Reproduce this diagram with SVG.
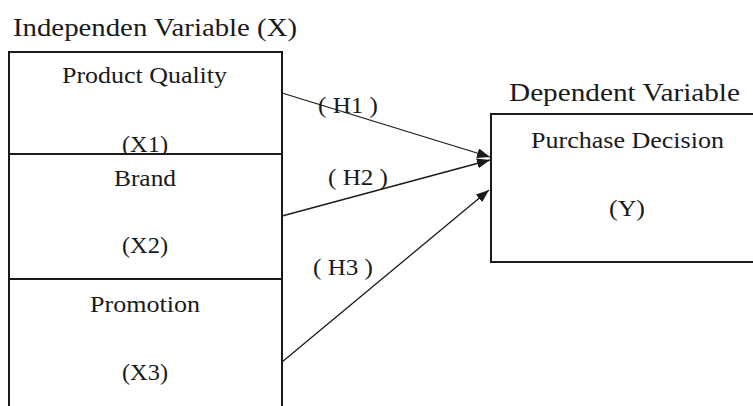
<svg xmlns="http://www.w3.org/2000/svg" width="753" height="406" viewBox="0 0 753 406">
  <style>
    .box { fill: #ffffff; stroke: #1a1a1a; stroke-width: 2; }
    text { font-family: 'Liberation Serif', 'Times New Roman', Times, serif; fill: #1a1a1a; }
    .lbl { font-size: 24px; }
    .head { font-size: 25px; }
    .edge { stroke: #1a1a1a; stroke-width: 1.3; fill: none; marker-end: url(#arrow); }
  </style>
  <defs>
    <marker id="arrow" markerUnits="userSpaceOnUse" markerWidth="14" markerHeight="10" refX="13" refY="5" orient="auto">
      <path d="M0,0 L13,5 L0,10 Z" fill="#1a1a1a"/>
    </marker>
  </defs>
  <rect width="753" height="406" fill="#ffffff"/>

  <!-- group headings -->
  <text class="head" x="13" y="36" textLength="284" lengthAdjust="spacingAndGlyphs">Independen Variable (X)</text>
  <text class="head" x="509" y="101" textLength="231" lengthAdjust="spacingAndGlyphs">Dependent Variable</text>

  <!-- independent variables -->
  <g id="x1">
    <rect class="box" x="9" y="52" width="273" height="102"/>
    <text class="lbl" x="62" y="83" textLength="165" lengthAdjust="spacingAndGlyphs">Product Quality</text>
    <text class="lbl" x="122" y="152" textLength="46" lengthAdjust="spacingAndGlyphs">(X1)</text>
  </g>
  <g id="x2">
    <rect class="box" x="9" y="154" width="273" height="125"/>
    <text class="lbl" x="114" y="186" textLength="62" lengthAdjust="spacingAndGlyphs">Brand</text>
    <text class="lbl" x="122" y="253" textLength="46" lengthAdjust="spacingAndGlyphs">(X2)</text>
  </g>
  <g id="x3">
    <rect class="box" x="9" y="279" width="273" height="140"/>
    <text class="lbl" x="90" y="312" textLength="110" lengthAdjust="spacingAndGlyphs">Promotion</text>
    <text class="lbl" x="122" y="380" textLength="46" lengthAdjust="spacingAndGlyphs">(X3)</text>
  </g>

  <!-- dependent variable -->
  <g id="y">
    <rect class="box" x="491" y="114" width="280" height="148"/>
    <text class="lbl" x="531" y="148" textLength="193" lengthAdjust="spacingAndGlyphs">Purchase Decision</text>
    <text class="lbl" x="609" y="216" textLength="36" lengthAdjust="spacingAndGlyphs">(Y)</text>
  </g>

  <!-- hypothesis paths -->
  <g id="connectors">
    <line class="edge" x1="282" y1="93" x2="490" y2="157"/>
    <line class="edge" x1="282" y1="216" x2="490" y2="160"/>
    <line class="edge" x1="282" y1="362" x2="489" y2="190"/>
    <text class="lbl" x="318" y="113" textLength="60" lengthAdjust="spacingAndGlyphs">( H1 )</text>
    <text class="lbl" x="328" y="185" textLength="60" lengthAdjust="spacingAndGlyphs">( H2 )</text>
    <text class="lbl" x="313" y="275" textLength="60" lengthAdjust="spacingAndGlyphs">( H3 )</text>
  </g>
</svg>
